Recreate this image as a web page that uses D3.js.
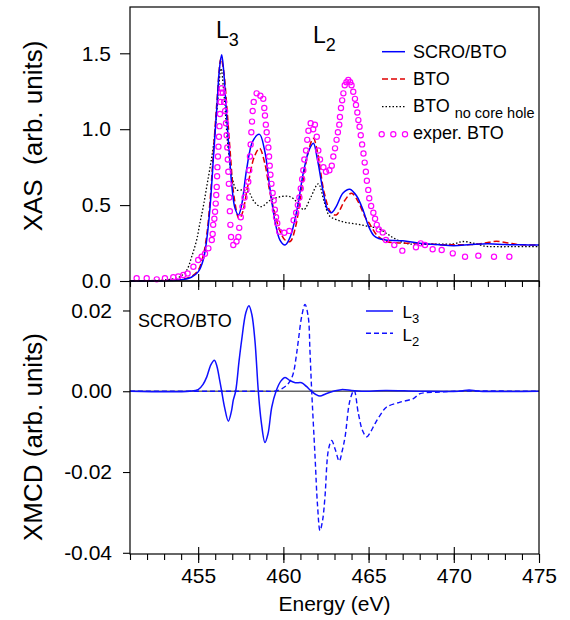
<!DOCTYPE html>
<html>
<head>
<meta charset="utf-8">
<script src="https://cdn.jsdelivr.net/npm/d3@7"></script>
<style>
  body { margin: 0; background: #fff; }
  svg { font-family: "Liberation Sans", Arial, sans-serif; }
</style>
</head>
<body>
<svg id="chart" width="570" height="620"></svg>
<script>
// energies (eV) and XAS values
var scroE   = [451, 453, 454, 454.6, 455.0, 455.3, 455.5, 455.7, 455.9, 456.1, 456.25, 456.38, 456.5, 456.65, 456.8, 457.0, 457.16, 457.36, 457.55, 457.85, 458.2, 458.6, 458.9, 459.2, 459.5, 459.8, 460.1, 460.4, 460.8, 461.2, 461.5, 461.76, 462.0, 462.35, 462.6, 462.83, 463.1, 463.5, 463.9, 464.3, 464.7, 465.0, 465.3, 465.6, 466.0, 467.0, 468.0, 469, 470, 471, 472, 473, 474, 475];
var scroXas = [0.0, 0.002, 0.008, 0.025, 0.06, 0.14, 0.27, 0.49, 0.82, 1.15, 1.40, 1.49, 1.38, 1.12, 0.88, 0.60, 0.48, 0.435, 0.50, 0.74, 0.92, 0.966, 0.86, 0.62, 0.40, 0.27, 0.237, 0.29, 0.47, 0.73, 0.86, 0.907, 0.80, 0.58, 0.47, 0.45, 0.49, 0.58, 0.605, 0.56, 0.46, 0.36, 0.30, 0.28, 0.27, 0.265, 0.248, 0.24, 0.233, 0.24, 0.245, 0.24, 0.238, 0.237];

var btoE   = [451, 453, 454, 454.6, 455.0, 455.3, 455.5, 455.7, 455.9, 456.1, 456.34, 456.5, 456.7, 456.9, 457.1, 457.4, 457.6, 457.9, 458.3, 458.6, 458.9, 459.2, 459.4, 459.8, 460.1, 460.4, 460.7, 461.1, 461.5, 461.76, 462.0, 462.4, 462.8, 463.1, 463.6, 464.0, 464.4, 464.8, 465.1, 465.5, 466.06, 467, 468, 469, 470, 471, 471.8, 472.5, 473.2, 474, 475];
var btoXas = [0.0, 0.003, 0.01, 0.03, 0.07, 0.17, 0.30, 0.53, 0.86, 1.18, 1.467, 1.38, 1.12, 0.82, 0.56, 0.41, 0.45, 0.62, 0.82, 0.874, 0.78, 0.59, 0.49, 0.33, 0.27, 0.26, 0.35, 0.62, 0.87, 0.94, 0.85, 0.58, 0.45, 0.435, 0.53, 0.578, 0.52, 0.42, 0.37, 0.30, 0.26, 0.25, 0.25, 0.24, 0.238, 0.24, 0.25, 0.262, 0.25, 0.238, 0.237];

var noHoleE   = [451, 452.5, 453.3, 453.93, 454.33, 454.62, 454.91, 455.1, 455.3, 455.5, 455.7, 455.89, 456.1, 456.34, 456.5, 456.77, 457.0, 457.26, 457.6, 457.94, 458.3, 458.7, 459.2, 459.8, 460.4, 460.8, 461.2, 461.6, 462.05, 462.4, 462.7, 463.2, 463.7, 464.3, 464.9, 465.6, 466.1, 466.45, 467.1, 467.7, 469, 470, 470.5, 471.2, 471.9, 472.5, 473.5, 475];
var noHoleXas = [0.0, 0.004, 0.01, 0.028, 0.072, 0.16, 0.27, 0.38, 0.49, 0.62, 0.75, 0.885, 1.12, 1.40, 1.25, 0.86, 0.68, 0.60, 0.60, 0.59, 0.52, 0.49, 0.53, 0.555, 0.555, 0.52, 0.47, 0.55, 0.64, 0.52, 0.43, 0.40, 0.385, 0.375, 0.362, 0.345, 0.31, 0.285, 0.25, 0.242, 0.243, 0.245, 0.26, 0.248, 0.228, 0.226, 0.226, 0.227];

var expE   = [451.39, 451.98, 452.57, 453.05, 453.54, 453.83, 454.13, 454.38, 454.72, 455.0, 455.2, 455.4, 455.6, 455.8, 455.85, 455.88, 455.95, 455.99, 456.03, 456.06, 456.09, 456.11, 456.13, 456.16, 456.19, 456.22, 456.25, 456.28, 456.31, 456.34, 456.38, 456.45, 456.52, 456.58, 456.63, 456.67, 456.71, 456.74, 456.77, 456.8, 456.83, 456.86, 456.89, 456.93, 457.06, 457.25, 457.36, 457.41, 457.5, 457.6, 457.72, 457.83, 457.94, 458.0, 458.04, 458.08, 458.12, 458.16, 458.2, 458.26, 458.43, 458.65, 458.82, 458.88, 458.92, 458.97, 459.02, 459.07, 459.12, 459.16, 459.2, 459.24, 459.3, 459.37, 459.43, 459.5, 459.57, 459.64, 459.76, 460.05, 460.35, 460.6, 460.75, 460.85, 460.94, 461.02, 461.1, 461.17, 461.23, 461.33, 461.4, 461.47, 461.6, 461.75, 461.85, 461.96, 462.05, 462.15, 462.35, 462.5, 462.7, 462.84, 462.93, 463.03, 463.12, 463.2, 463.28, 463.32, 463.38, 463.45, 463.52, 463.6, 463.7, 463.81, 463.92, 464.0, 464.1, 464.2, 464.26, 464.34, 464.4, 464.47, 464.54, 464.62, 464.7, 464.77, 464.84, 464.9, 464.98, 465.04, 465.15, 465.28, 465.38, 465.48, 465.6, 465.83, 466.02, 466.51, 466.98, 467.78, 468.06, 468.31, 468.76, 469.29, 469.94, 470.66, 471.44, 472.36, 473.26];
var expXas = [0.018, 0.018, 0.011, 0.018, 0.025, 0.03, 0.04, 0.05, 0.094, 0.138, 0.16, 0.18, 0.215, 0.27, 0.31, 0.37, 0.41, 0.456, 0.51, 0.567, 0.62, 0.69, 0.75, 0.82, 0.885, 0.95, 1.02, 1.10, 1.18, 1.24, 1.27, 1.24, 1.18, 1.12, 1.04, 0.96, 0.88, 0.80, 0.72, 0.64, 0.55, 0.46, 0.37, 0.29, 0.237, 0.26, 0.29, 0.35, 0.42, 0.49, 0.55, 0.60, 0.654, 0.73, 0.82, 0.90, 0.98, 1.05, 1.12, 1.18, 1.236, 1.22, 1.20, 1.14, 1.09, 1.03, 0.98, 0.93, 0.88, 0.82, 0.76, 0.70, 0.64, 0.58, 0.53, 0.47, 0.42, 0.38, 0.325, 0.318, 0.33, 0.40, 0.45, 0.50, 0.55, 0.61, 0.67, 0.73, 0.80, 0.86, 0.93, 0.99, 1.04, 1.00, 1.03, 0.95, 0.86, 0.80, 0.75, 0.72, 0.73, 0.76, 0.82, 0.874, 0.93, 0.98, 1.03, 1.08, 1.14, 1.19, 1.236, 1.29, 1.31, 1.324, 1.31, 1.29, 1.247, 1.20, 1.16, 1.11, 1.06, 1.016, 0.96, 0.90, 0.84, 0.78, 0.72, 0.66, 0.60, 0.545, 0.494, 0.45, 0.41, 0.37, 0.34, 0.32, 0.27, 0.237, 0.20, 0.222, 0.248, 0.237, 0.209, 0.204, 0.182, 0.16, 0.167, 0.16, 0.16];

// XMCD of SCRO/BTO
var l3E    = [451, 454.5, 455.0, 455.3, 455.5, 455.75, 455.95, 456.1, 456.25, 456.38, 456.55, 456.77, 456.95, 457.06, 457.2, 457.4, 457.55, 457.8, 457.98, 458.15, 458.33, 458.53, 458.7, 458.92, 459.1, 459.32, 459.57, 459.85, 460.1, 460.4, 460.7, 461.07, 461.35, 461.6, 461.9, 462.15, 462.5, 462.93, 463.4, 464.0, 464.6, 466, 468, 470.3, 470.9, 471.5, 475];
var l3Xmcd = [0, 0, 0.0004, 0.0018, 0.0035, 0.0066, 0.0077, 0.0062, 0.003, 0, -0.004, -0.0074, -0.005, -0.0022, 0, 0.0075, 0.0126, 0.0195, 0.0212, 0.019, 0.0126, 0, -0.0075, -0.0127, -0.0105, -0.0039, 0, 0.0025, 0.0034, 0.0026, 0.0021, 0.0021, 0.0012, 0.0002, -0.0008, -0.0012, -0.0006, 0, 0.0004, 0.0002, 0, 0.0002, 0, 0, 0.0003, 0, 0];

var l2E    = [451, 459.0, 459.5, 459.9, 460.2, 460.39, 460.58, 460.75, 460.88, 461.07, 461.27, 461.46, 461.56, 461.66, 461.86, 462.0, 462.15, 462.3, 462.44, 462.64, 462.83, 463.05, 463.28, 463.45, 463.62, 463.91, 464.15, 464.4, 464.65, 464.89, 465.1, 465.38, 465.7, 466.06, 466.85, 467.63, 468.02, 469.2, 470, 475];
var l2Xmcd = [0, 0, 0, 0.0006, 0.0015, 0.0025, 0.0044, 0.0085, 0.0126, 0.0184, 0.0215, 0.0184, 0.01, 0.0002, -0.0163, -0.028, -0.0345, -0.032, -0.0262, -0.0146, -0.0122, -0.0145, -0.0173, -0.0148, -0.0113, -0.0022, 0.0002, -0.0055, -0.0098, -0.0113, -0.0102, -0.008, -0.0058, -0.0039, -0.0027, -0.0018, -0.0006, -0.0002, 0, 0];

var xMajor = [455, 460, 465, 470, 475];
var xMinor = d3.range(451, 476);
var xasTicks = [0, 0.5, 1.0, 1.5];
var xasLabels = ["0.0", "0.5", "1.0", "1.5"];
var xmcdTicks = [0.02, 0, -0.02, -0.04];
var xmcdLabels = ["0.02", "0.00", "-0.02", "-0.04"];

var left = 130, right = 539, top1 = 7, mid = 281, bottom2 = 554;

var svg = d3.select("#chart");

var x = d3.scaleLinear().domain([451, 475]).range([left, right]);
var yTop = d3.scaleLinear().domain([0, 1.805]).range([mid, top1]);
var yBot = d3.scaleLinear().domain([-0.0403, 0.0273]).range([bottom2, mid]);

function pairs(es, vs) {
  return es.map(function(e, i) { return [e, vs[i]]; });
}

function styleAxis(g, size) {
  g.select(".domain").remove();
  g.selectAll("line").attr("stroke", "#000").attr("stroke-width", 1.1);
  g.selectAll("text").attr("font-size", size).attr("fill", "#000")
    .attr("font-family", "'Liberation Sans', Arial, sans-serif");
}

// zero line in XMCD panel
svg.append("line")
  .attr("x1", left).attr("x2", right)
  .attr("y1", yBot(0)).attr("y2", yBot(0))
  .attr("stroke", "#666").attr("stroke-width", 1.3);

// --- top panel lines
var lineTop = d3.line()
  .x(function(d) { return x(d[0]); })
  .y(function(d) { return yTop(d[1]); })
  .curve(d3.curveCatmullRom.alpha(0.5));

svg.append("path").datum(pairs(noHoleE, noHoleXas))
  .attr("d", lineTop).attr("fill", "none")
  .attr("stroke", "#000").attr("stroke-width", 1.3)
  .attr("stroke-dasharray", "1.5,2");

svg.append("path").datum(pairs(btoE, btoXas))
  .attr("d", lineTop).attr("fill", "none")
  .attr("stroke", "#e00000").attr("stroke-width", 1.5)
  .attr("stroke-dasharray", "6,3");

svg.append("path").datum(pairs(scroE, scroXas))
  .attr("d", lineTop).attr("fill", "none")
  .attr("stroke", "#0000ff").attr("stroke-width", 1.5);

svg.append("g").selectAll("circle")
  .data(pairs(expE, expXas))
  .enter().append("circle")
    .attr("cx", function(d) { return x(d[0]); })
    .attr("cy", function(d) { return yTop(d[1]); })
    .attr("r", 2.6)
    .attr("fill", "none")
    .attr("stroke", "#ff00ff")
    .attr("stroke-width", 1.2);

// --- bottom panel lines
var lineBot = d3.line()
  .x(function(d) { return x(d[0]); })
  .y(function(d) { return yBot(d[1]); })
  .curve(d3.curveCatmullRom.alpha(0.5));

svg.append("path").datum(pairs(l2E, l2Xmcd))
  .attr("d", lineBot).attr("fill", "none")
  .attr("stroke", "#1010ff").attr("stroke-width", 1.4)
  .attr("stroke-dasharray", "5,3");

svg.append("path").datum(pairs(l3E, l3Xmcd))
  .attr("d", lineBot).attr("fill", "none")
  .attr("stroke", "#1010ff").attr("stroke-width", 1.5);

// --- frames
svg.append("rect").attr("x", left).attr("y", top1)
  .attr("width", right - left).attr("height", mid - top1)
  .attr("fill", "none").attr("stroke", "#000").attr("stroke-width", 1.2);
svg.append("rect").attr("x", left).attr("y", mid)
  .attr("width", right - left).attr("height", bottom2 - mid)
  .attr("fill", "none").attr("stroke", "#000").attr("stroke-width", 1.2);

// --- axes
svg.append("g").attr("transform", "translate(" + left + ",0)")
  .call(d3.axisLeft(yTop).tickValues(xasTicks)
    .tickFormat(function(d, i) { return xasLabels[i]; })
    .tickSize(10).tickPadding(9))
  .call(styleAxis, 21);

svg.append("g").attr("transform", "translate(" + left + ",0)")
  .call(d3.axisLeft(yBot).tickValues(xmcdTicks)
    .tickFormat(function(d, i) { return xmcdLabels[i]; })
    .tickSize(7).tickPadding(11))
  .call(styleAxis, 21);

// shared middle line: major ticks up, all ticks down
svg.append("g").attr("transform", "translate(0," + mid + ")")
  .call(d3.axisTop(x).tickValues(xMajor.slice(0, 4)).tickSize(7).tickFormat(""))
  .call(styleAxis, 0);
svg.append("g").attr("transform", "translate(0," + mid + ")")
  .call(d3.axisBottom(x).tickValues(xMinor).tickSize(6).tickFormat(""))
  .call(styleAxis, 0);
svg.append("g").attr("transform", "translate(0," + mid + ")")
  .call(d3.axisBottom(x).tickValues(xMajor.slice(0, 4)).tickSize(9).tickFormat(""))
  .call(styleAxis, 0);

// bottom axis
svg.append("g").attr("transform", "translate(0," + bottom2 + ")")
  .call(d3.axisBottom(x).tickValues(xMinor).tickSize(6).tickFormat(""))
  .call(styleAxis, 0);
svg.append("g").attr("transform", "translate(0," + bottom2 + ")")
  .call(d3.axisBottom(x).tickValues(xMajor).tickSize(9).tickPadding(5)
    .tickFormat(d3.format("d")))
  .call(styleAxis, 21);
svg.append("g").attr("transform", "translate(0," + bottom2 + ")")
  .call(d3.axisTop(x).tickValues(xMajor.slice(0, 4)).tickSize(7).tickFormat(""))
  .call(styleAxis, 0);

// axis titles
svg.append("text")
  .attr("transform", "translate(42," + 136 + ") rotate(-90)")
  .attr("text-anchor", "middle").attr("font-size", 26)
  .style("white-space", "pre")
  .text("XAS  (arb. units)");

svg.append("text")
  .attr("transform", "translate(42," + 437 + ") rotate(-90)")
  .attr("text-anchor", "middle").attr("font-size", 26)
  .text("XMCD (arb. units)");

svg.append("text")
  .attr("x", (left + right) / 2).attr("y", 611)
  .attr("text-anchor", "middle").attr("font-size", 21)
  .text("Energy (eV)");

// edge labels
var l3lab = svg.append("text").attr("x", 216).attr("y", 38).attr("font-size", 23);
l3lab.append("tspan").text("L");
l3lab.append("tspan").attr("dy", 8).attr("font-size", 18).text("3");

var l2lab = svg.append("text").attr("x", 313).attr("y", 43).attr("font-size", 23);
l2lab.append("tspan").text("L");
l2lab.append("tspan").attr("dy", 8).attr("font-size", 18).text("2");

// top legend
var lx1 = 382, lx2 = 405, tx = 413;
svg.append("line").attr("x1", lx1).attr("x2", lx2).attr("y1", 51.7).attr("y2", 51.7)
  .attr("stroke", "#0000ff").attr("stroke-width", 1.5);
svg.append("text").attr("x", tx).attr("y", 58.3).attr("font-size", 18).text("SCRO/BTO");

svg.append("line").attr("x1", lx1).attr("x2", lx2).attr("y1", 79).attr("y2", 79)
  .attr("stroke", "#e00000").attr("stroke-width", 1.5).attr("stroke-dasharray", "6,3");
svg.append("text").attr("x", tx).attr("y", 85).attr("font-size", 18).text("BTO");

svg.append("line").attr("x1", lx1).attr("x2", lx2).attr("y1", 106.7).attr("y2", 106.7)
  .attr("stroke", "#000").attr("stroke-width", 1.3).attr("stroke-dasharray", "1.5,2");
var nch = svg.append("text").attr("x", tx).attr("y", 111.7).attr("font-size", 18);
nch.append("tspan").text("BTO");
nch.append("tspan").attr("dx", 5).attr("dy", 6.6).attr("font-size", 14.5).text("no core hole");

svg.append("g").selectAll("circle")
  .data([381.7, 393.3, 405])
  .enter().append("circle")
    .attr("cx", function(d) { return d; })
    .attr("cy", 134.3).attr("r", 2.6)
    .attr("fill", "none").attr("stroke", "#ff00ff").attr("stroke-width", 1.2);
svg.append("text").attr("x", tx).attr("y", 139.3).attr("font-size", 18).text("exper. BTO");

// bottom panel labels
svg.append("text").attr("x", 138).attr("y", 327).attr("font-size", 18).text("SCRO/BTO");

svg.append("line").attr("x1", 366).attr("x2", 393).attr("y1", 311).attr("y2", 311)
  .attr("stroke", "#1010ff").attr("stroke-width", 1.5);
var b3 = svg.append("text").attr("x", 402.5).attr("y", 318).attr("font-size", 17);
b3.append("tspan").text("L");
b3.append("tspan").attr("dy", 5).attr("font-size", 13).text("3");

svg.append("line").attr("x1", 366).attr("x2", 393).attr("y1", 333.3).attr("y2", 333.3)
  .attr("stroke", "#1010ff").attr("stroke-width", 1.4).attr("stroke-dasharray", "5,3");
var b2 = svg.append("text").attr("x", 402.5).attr("y", 340.5).attr("font-size", 17);
b2.append("tspan").text("L");
b2.append("tspan").attr("dy", 5).attr("font-size", 13).text("2");
</script>
</body>
</html>
